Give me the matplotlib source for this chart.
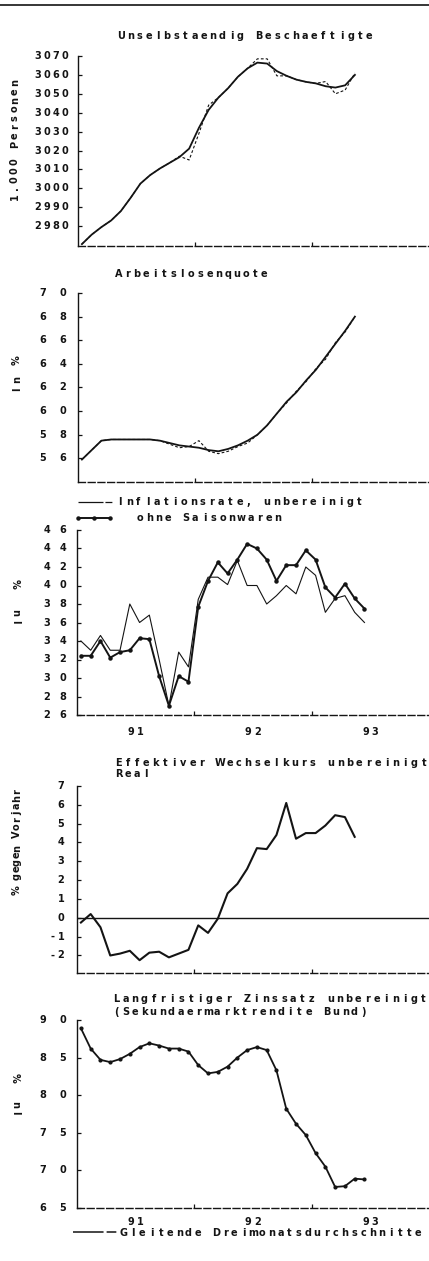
"""Scanned-style indicator panels (employment, unemployment, prices, FX, rates) 1991-93."""

import matplotlib

matplotlib.use("Agg")
import matplotlib.pyplot as plt
import numpy as np
from matplotlib.lines import Line2D
from matplotlib.transforms import Affine2D, blended_transform_factory, offset_copy

W, H = 429, 1261
INK = "#141414"
FS = 7.0
plt.rcParams["lines.scale_dashes"] = False

# monthly values, Jan 1991 onwards
employment_ma = [2970.5, 2975.5, 2979.5, 2983, 2988, 2995, 3002.5, 3007, 3010.5, 3013.5,
                 3016.5, 3021, 3032, 3041.5, 3048, 3053, 3059, 3063.5, 3066.5, 3066,
                 3062, 3059.5, 3057.5, 3056.3, 3055.5, 3054, 3053.3, 3054.5, 3060]
employment_raw = [2970.5, 2975.5, 2979.5, 2983, 2988, 2995, 3002.5, 3007, 3010.5, 3013.5,
                  3017, 3015, 3029, 3044, 3048, 3053, 3059, 3063.5, 3068.5, 3068.5,
                  3059.5, 3059.5, 3057.5, 3056.3, 3055.5, 3056.5, 3050, 3052, 3061]
unemployment_ma = [5.59, 5.67, 5.75, 5.76, 5.76, 5.76, 5.76, 5.76, 5.75, 5.73,
                   5.71, 5.70, 5.69, 5.67, 5.66, 5.68, 5.71, 5.75, 5.80, 5.88,
                   5.98, 6.08, 6.16, 6.26, 6.35, 6.46, 6.57, 6.68, 6.80]
unemployment_raw = [5.59, 5.67, 5.75, 5.76, 5.76, 5.76, 5.76, 5.76, 5.75, 5.72,
                    5.69, 5.70, 5.75, 5.66, 5.64, 5.66, 5.70, 5.73, 5.80, 5.88,
                    5.98, 6.07, 6.17, 6.25, 6.36, 6.44, 6.58, 6.67, 6.80]
inflation_total = [3.40, 3.30, 3.46, 3.30, 3.30, 3.80, 3.60, 3.68, 3.20, 2.70,
                   3.28, 3.12, 3.85, 4.09, 4.09, 4.01, 4.27, 4.00, 4.00, 3.80,
                   3.89, 4.00, 3.91, 4.20, 4.11, 3.71, 3.86, 3.89, 3.71, 3.60]
inflation_ex_seasonal = [3.24, 3.24, 3.40, 3.22, 3.28, 3.30, 3.43, 3.42, 3.02, 2.70,
                         3.02, 2.96, 3.77, 4.05, 4.25, 4.13, 4.28, 4.45, 4.40, 4.28,
                         4.05, 4.22, 4.22, 4.38, 4.28, 3.98, 3.87, 4.02, 3.86, 3.75]
exchange_rate_real = [-0.25, 0.2, -0.5, -2.0, -1.9, -1.75, -2.25, -1.85, -1.8, -2.1,
                      -1.9, -1.7, -0.4, -0.8, -0.05, 1.3, 1.8, 2.6, 3.7, 3.65,
                      4.4, 6.1, 4.2, 4.5, 4.5, 4.9, 5.45, 5.35, 4.3]
long_rate = [8.89, 8.62, 8.47, 8.44, 8.48, 8.55, 8.64, 8.69, 8.66, 8.62,
             8.62, 8.58, 8.40, 8.29, 8.31, 8.38, 8.50, 8.60, 8.64, 8.60,
             8.33, 7.82, 7.62, 7.47, 7.23, 7.05, 6.78, 6.79, 6.89, 6.88]

employment_ticks = [2980, 2990, 3000, 3010, 3020, 3030, 3040, 3050, 3060, 3070]
unemployment_ticks = [5.6, 5.8, 6.0, 6.2, 6.4, 6.6, 6.8, 7.0]
inflation_ticks = [2.6, 2.8, 3.0, 3.2, 3.4, 3.6, 3.8, 4.0, 4.2, 4.4, 4.6]
exchange_ticks = [-2, -1, 0, 1, 2, 3, 4, 5, 6, 7]
rate_ticks = [6.5, 7.0, 7.5, 8.0, 8.5, 9.0]
year_labels = ["91", "92", "93"]
year_centers = [1991.5, 1992.5, 1993.5]


def month_x(values):
    """Decimal-year positions, points sit a little after the month start."""
    return 1991 + (np.arange(len(values)) + 0.4) / 12


fig = plt.figure(figsize=(W / 100, H / 100), dpi=100)
fig.patch.set_facecolor("white")
PX = Affine2D().scale(1 / W, -1 / H).translate(0, 1) + fig.transFigure


def spaced(x, y, s, pitch=9.1, transform=PX, direction="right", rotation=0,
           align="left", va="baseline"):
    """Typewriter-like text: one glyph per fixed pitch."""
    step = {"right": (1, 0), "up": (0, 1)}[direction]
    shift = {"left": 0, "right": -(len(s) - 1), "center": -(len(s) - 1) / 2}[align]
    for i, ch in enumerate(s):
        if ch == " ":
            continue
        k = (i + shift) * pitch
        tr = offset_copy(transform, fig=fig, x=k * step[0], y=k * step[1], units="dots")
        fig.text(x, y, ch, transform=tr, ha="center", va=va, rotation=rotation,
                 rotation_mode="anchor", fontsize=FS, fontweight="bold",
                 family="DejaVu Sans", color=INK)


def make_axes(top, bottom, ylim, ticks, fmt, left=78, label_right=64, label_pitch=9.1):
    ax = fig.add_axes([left / W, 1 - bottom / H, (W - left) / W, (bottom - top) / H])
    ax.patch.set_alpha(0)
    ax.set_xlim(1991, 1994)
    ax.set_ylim(*ylim)
    for side in ("top", "right"):
        ax.spines[side].set_visible(False)
    ax.spines["left"].set_linewidth(1.0)
    ax.spines["left"].set_color(INK)
    ax.spines["bottom"].set_linewidth(1.0)
    ax.spines["bottom"].set_color(INK)
    ax.spines["bottom"].set_linestyle((0, (5, 2)))
    ax.set_xticks([1992, 1993])
    ax.set_yticks(ticks)
    ax.set_xticklabels([])
    ax.set_yticklabels([])
    ax.tick_params(direction="in", length=3, width=0.9, color=INK)
    ytr = blended_transform_factory(PX, ax.transData)
    for v in ticks:
        spaced(label_right, v, fmt(v), pitch=label_pitch, transform=ytr, align="right",
               va="center")
    return ax


def year_axis_labels(ax, y_px):
    tr = blended_transform_factory(ax.transData, PX)
    for xc, lab in zip(year_centers, year_labels):
        spaced(xc, y_px, lab, pitch=9.5, transform=tr, align="center")


def dec(v):
    return f"{v:.1f}".replace(".", " ")


# header rule of the page
fig.add_artist(Line2D([0, W], [5, 5], transform=PX, lw=1.2, color=INK))

# 1) employment
ax1 = make_axes(56, 246, (2969.5, 3070), employment_ticks, lambda v: str(v),
                label_right=65, label_pitch=9.0)
ax1.plot(month_x(employment_raw), employment_raw, color=INK, lw=0.8, ls=(0, (2, 1.5)))
ax1.plot(month_x(employment_ma), employment_ma, color=INK, lw=1.3)
spaced(121, 39, "Unselbstaendig Beschaeftigte", pitch=9.2)
spaced(18, 197, "1.000 Personen", pitch=8.8, direction="up", rotation=90)

# 2) unemployment rate
ax2 = make_axes(293, 482, (5.4, 7.0), unemployment_ticks, dec,
                label_right=62.5, label_pitch=9.75)
ax2.plot(month_x(unemployment_raw), unemployment_raw, color=INK, lw=0.8, ls=(0, (2, 1.5)))
ax2.plot(month_x(unemployment_ma), unemployment_ma, color=INK, lw=1.3)
spaced(118.5, 277, "Arbeitslosenquote", pitch=9.1)
spaced(20, 389, "In %", pitch=9.5, direction="up", rotation=90)

# 3) inflation
ax3 = make_axes(530, 715, (2.6, 4.6), inflation_ticks, dec, left=77,
                label_right=63, label_pitch=8.0)
ax3.plot(month_x(inflation_total), inflation_total, color=INK, lw=0.8)
ax3.plot(month_x(inflation_ex_seasonal), inflation_ex_seasonal, color=INK, lw=1.4,
         marker="o", ms=2.2)
year_axis_labels(ax3, 735)
fig.add_artist(Line2D([78, 113], [502, 502], transform=PX, lw=0.9, color=INK,
                      ls=(0, (18, 1.4, 5, 1.4))))
fig.add_artist(Line2D([78, 94, 110], [518, 518, 518], transform=PX, lw=1.4, color=INK,
                      marker="o", ms=2.2))
spaced(120, 505, "Inflationsrate, unbereinigt", pitch=9.2)
spaced(140, 521, "ohne Saisonwaren", pitch=9.2)
spaced(12, 622, "In  %", pitch=9.5, direction="up", rotation=270)

# 4) real effective exchange rate
ax4 = make_axes(786, 973, (-2.93, 7), exchange_ticks, lambda v: str(v), left=77,
                label_right=61, label_pitch=8.5)
ax4.axhline(0, color=INK, lw=1.0)
ax4.plot(month_x(exchange_rate_real), exchange_rate_real, color=INK, lw=1.5)
spaced(118.5, 766, "Effektiver Wechselkurs unbereinigt", pitch=9.25)
spaced(118.5, 777, "Real", pitch=9.25)
spaced(20, 890, "% gegen Vorjahr", pitch=7.0, direction="up", rotation=90)

# 5) long-term interest rate
ax5 = make_axes(1020, 1208, (6.5, 9.0), rate_ticks, dec, left=77,
                label_right=63, label_pitch=10.0)
ax5.plot(month_x(long_rate), long_rate, color=INK, lw=1.3, marker="o", ms=2.0)
year_axis_labels(ax5, 1225)
spaced(116.5, 1002, "Langfristiger Zinssatz unbereinigt", pitch=9.3)
spaced(116.5, 1015, "(Sekundaermarktrendite Bund)", pitch=9.15)
spaced(12, 1113, "In  %", pitch=8.7, direction="up", rotation=270)

# footnote legend
fig.add_artist(Line2D([73, 117], [1232, 1232], transform=PX, lw=1.1, color=INK,
                      ls=(0, (22, 2.2, 7, 2.2))))
spaced(124, 1236, "Gleitende Dreimonatsdurchschnitte", pitch=9.2)

fig.savefig("out.png", dpi=100, facecolor="white")
